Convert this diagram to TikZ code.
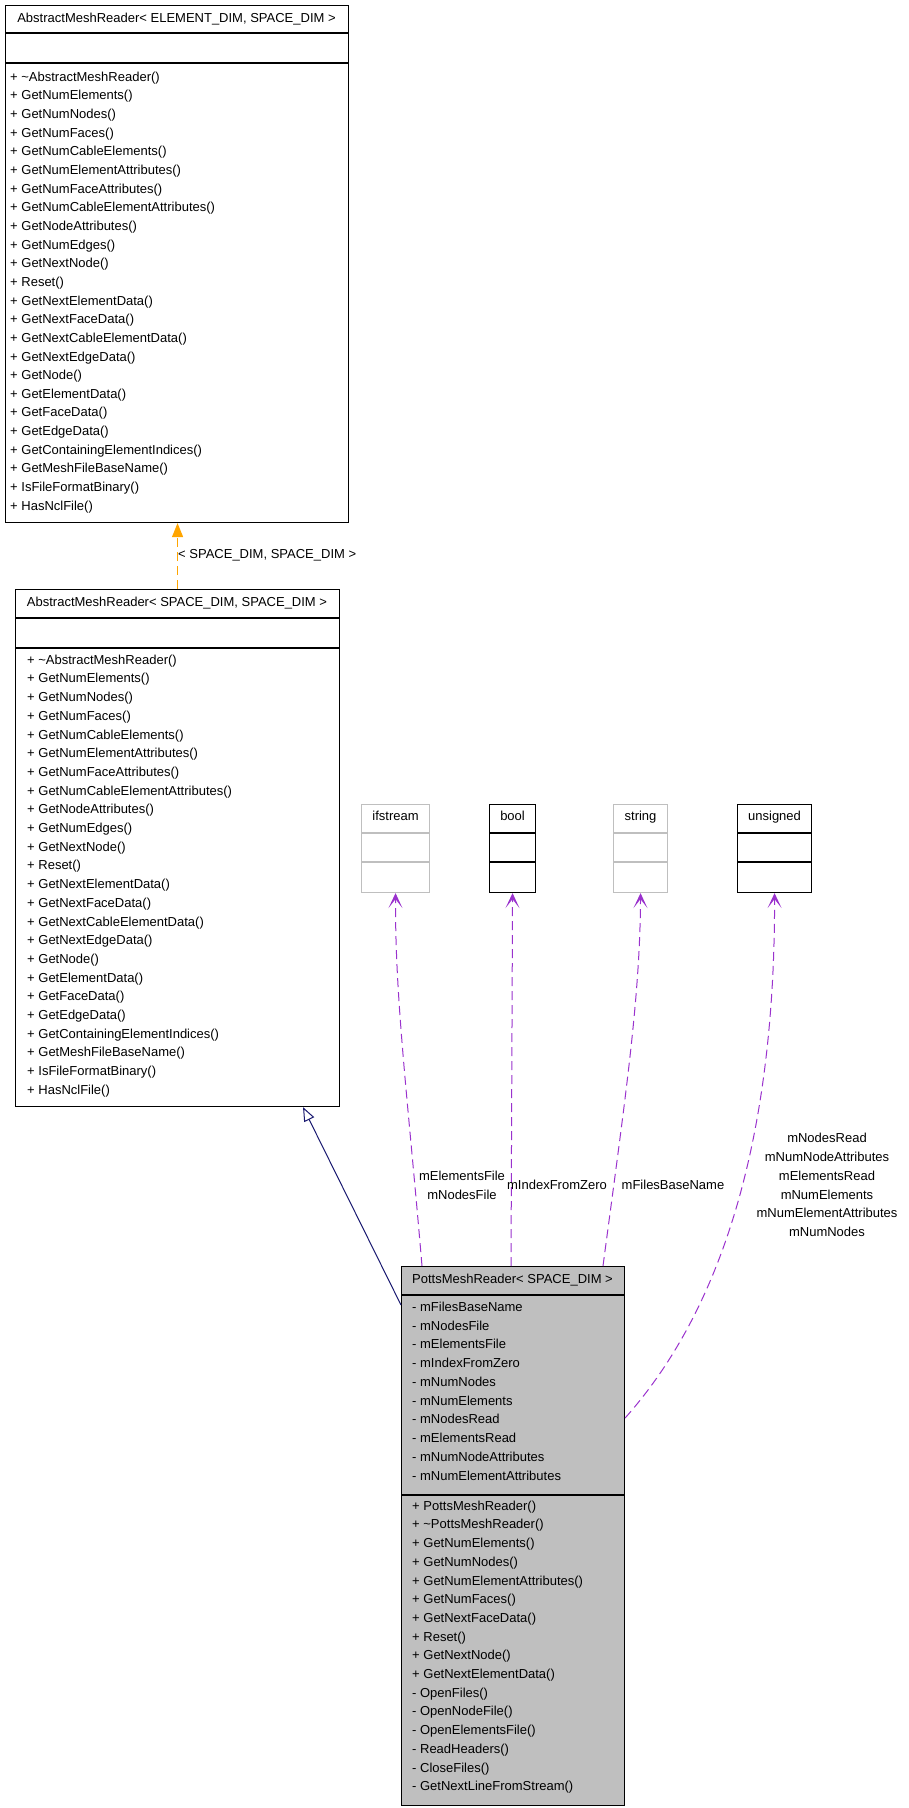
\documentclass[tikz,border=0pt]{standalone}
\usepackage{fontspec}
\setmainfont{Liberation Sans}
\usetikzlibrary{positioning, arrows.meta}

\definecolor{inhblue}{HTML}{191970}
\definecolor{tplorange}{HTML}{FFA500}
\definecolor{usepurple}{HTML}{9A32CD}
\definecolor{boxgray}{HTML}{BFBFBF}

\newcommand{\meshmethods}{\textasciitilde AbstractMeshReader(), GetNumElements(), GetNumNodes(), GetNumFaces(), GetNumCableElements(), GetNumElementAttributes(), GetNumFaceAttributes(), GetNumCableElementAttributes(), GetNodeAttributes(), GetNumEdges(), GetNextNode(), Reset(), GetNextElementData(), GetNextFaceData(), GetNextCableElementData(), GetNextEdgeData(), GetNode(), GetElementData(), GetFaceData(), GetEdgeData(), GetContainingElementIndices(), GetMeshFileBaseName(), IsFileFormatBinary(), HasNclFile()}
\newcommand{\pottsattrs}{mFilesBaseName, mNodesFile, mElementsFile, mIndexFromZero, mNumNodes, mNumElements, mNodesRead, mElementsRead, mNumNodeAttributes, mNumElementAttributes}
\newcommand{\pottsmethods}{+ PottsMeshReader(), + \textasciitilde PottsMeshReader(), + GetNumElements(), + GetNumNodes(), + GetNumElementAttributes(), + GetNumFaces(), + GetNextFaceData(), + Reset(), + GetNextNode(), + GetNextElementData(), - OpenFiles(), - OpenNodeFile(), - OpenElementsFile(), - ReadHeaders(), - CloseFiles(), - GetNextLineFromStream()}

\tikzset{
  classbox/.style={draw, line width=1.1pt, anchor=north west, inner sep=0pt},
  sepline/.style={line width=1.1pt},
  member/.style={anchor=west, inner sep=0pt, font=\fontsize{13}{15}\selectfont, text height=9.5pt, text depth=3pt},
  classtitle/.style={member, anchor=center},
  edgelabel/.style={inner sep=0pt, align=center, font=\fontsize{13}{18.7}\selectfont},
  usage/.style={usepurple, line width=1pt, dash pattern=on 9pt off 5pt, -{Stealth[length=15pt, width=14pt, inset=9pt]}},
  inherit/.style={inhblue, line width=1pt, -{Triangle[open, length=14pt, width=11pt, fill=white]}},
  tplarrow/.style={tplorange, line width=1.2pt, dash pattern=on 9pt off 5pt, -{Triangle[length=14pt, width=11pt]}}
}

\begin{document}
\begin{tikzpicture}[x=1pt, y=-1pt]
  \useasboundingbox (0,0) rectangle (909,1808);

  \node[classbox, minimum width=343pt, minimum height=517pt] (top) at (5,5) {};
  \node[classtitle] (toptitle) at (176.5,19) {AbstractMeshReader< ELEMENT\_DIM, SPACE\_DIM >};
  \draw[sepline] (5,33) -- (348,33);
  \draw[sepline] (5,63) -- (348,63);
  \foreach \m [count=\i from 0] in \meshmethods
    \node[member] at (10,78+18.65*\i) {+ \m};

  \node[classbox, minimum width=324pt, minimum height=517pt] (tmpl) at (15,589) {};
  \node[classtitle] (tmpltitle) at (177,603) {AbstractMeshReader< SPACE\_DIM, SPACE\_DIM >};
  \draw[sepline] (15,618) -- (339,618);
  \draw[sepline] (15,648) -- (339,648);
  \foreach \m [count=\i from 0] in \meshmethods
    \node[member] at (27,661+18.7*\i) {+ \m};

  \node[classbox, boxgray, minimum width=68pt, minimum height=88pt] (ifs) at (361,804) {};
  \node[classtitle] at (ifs.north |- 0,817) {ifstream};
  \draw[sepline, boxgray] (361,833) -- (429,833) (361,862) -- (429,862);

  \node[classbox, minimum width=46pt, minimum height=88pt] (bool) at (489,804) {};
  \node[classtitle] at (bool.north |- 0,817) {bool};
  \draw[sepline] (489,833) -- (535,833) (489,862) -- (535,862);

  \node[classbox, boxgray, minimum width=54pt, minimum height=88pt] (str) at (613,804) {};
  \node[classtitle] at (str.north |- 0,817) {string};
  \draw[sepline, boxgray] (613,833) -- (667,833) (613,862) -- (667,862);

  \node[classbox, minimum width=74pt, minimum height=88pt] (uns) at (737,804) {};
  \node[classtitle] at (uns.north |- 0,817) {unsigned};
  \draw[sepline] (737,833) -- (811,833) (737,862) -- (811,862);

  \node[classbox, fill=boxgray, minimum width=223pt, minimum height=539pt] (potts) at (401,1266) {};
  \node[classtitle] (pottstitle) at (512.5,1280) {PottsMeshReader< SPACE\_DIM >};
  \draw[sepline] (401,1295) -- (624,1295);
  \draw[sepline] (401,1495) -- (624,1495);
  \foreach \m [count=\i from 0] in \pottsattrs
    \node[member] at (412,1308+18.75*\i) {- \m};
  \foreach \m [count=\i from 0] in \pottsmethods
    \node[member] at (412,1507+18.7*\i) {\m};

  \draw[tplarrow] (tmpl.north) -- (tmpl.north |- top.south);
  \node[edgelabel, anchor=west] (tpllabel) at (178,555) {< SPACE\_DIM, SPACE\_DIM >};

  \draw[inherit] ([yshift=-39pt]potts.north west) -- ([xshift=288pt]tmpl.south west);

  \draw[usage] ([xshift=21pt]potts.north west) .. controls (408,1100) and (395,1000) .. (ifs.south);
  \draw[usage] ([xshift=110pt]potts.north west) -- (bool.south);
  \draw[usage] ([xshift=202pt]potts.north west) .. controls (625,1100) and (640,1000) .. (str.south);
  \draw[usage] ([yshift=-152pt]potts.north east) .. controls (730,1300) and (775,1120) .. (uns.south);

  \node[edgelabel] (filelabel) at (462,1185.5) {mElementsFile\\mNodesFile};
  \node[edgelabel] (zerolabel) at (557,1185) {mIndexFromZero};
  \node[edgelabel] (namelabel) at (673,1185) {mFilesBaseName};
  \node[edgelabel] (countlabel) at (827,1185) {mNodesRead\\mNumNodeAttributes\\mElementsRead\\mNumElements\\mNumElementAttributes\\mNumNodes};
\end{tikzpicture}
\end{document}
